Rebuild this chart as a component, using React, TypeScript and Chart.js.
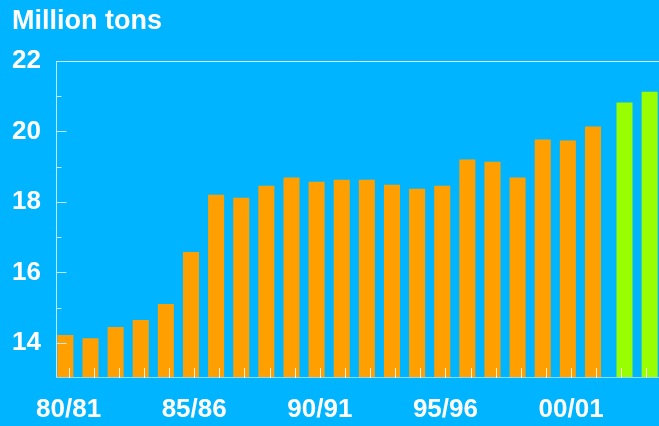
import React, { useEffect, useRef } from "react";
import { Chart, registerables } from "chart.js";

Chart.register(...registerables);

const categories = [
  "80/81", "81/82", "82/83", "83/84", "84/85", "85/86", "86/87", "87/88",
  "88/89", "89/90", "90/91", "91/92", "92/93", "93/94", "94/95", "95/96",
  "96/97", "97/98", "98/99", "99/00", "00/01", "01/02", "02/03", "03/04",
];
const actualValues = [
  14.22, 14.13, 14.45, 14.65, 15.1, 16.58, 18.2, 18.12, 18.46, 18.69, 18.57,
  18.63, 18.63, 18.49, 18.37, 18.46, 19.2, 19.14, 18.69, 19.77, 19.74, 20.14,
];
const forecastValues = [20.82, 21.13];
const yTickValues = [14, 16, 18, 20, 22];
const yMinorValues = [15, 17, 19, 21];

const BG = "rgb(0,180,255)";
const ORANGE = "rgb(255,160,0)";
const GREEN = "rgb(153,255,0)";
const FONT = "'Liberation Sans', Arial, sans-serif";

const framePlugin = {
  id: "frame",
  afterDatasetsDraw(chart: any) {
    const { ctx, chartArea, scales } = chart;
    const x = scales.x;
    const y = scales.y;
    ctx.save();
    ctx.lineWidth = 1;
    ctx.strokeStyle = "rgba(230,248,255,0.95)";
    const yTop = Math.round(y.getPixelForValue(22)) + 0.5;
    ctx.beginPath();
    ctx.moveTo(chartArea.left, yTop);
    ctx.lineTo(chart.width, yTop);
    ctx.stroke();
    ctx.strokeStyle = "rgba(190,235,255,1)";
    const xl = Math.round(chartArea.left) + 0.5;
    ctx.beginPath();
    ctx.moveTo(xl, yTop);
    ctx.lineTo(xl, chartArea.bottom);
    ctx.stroke();
    ctx.strokeStyle = "rgba(140,220,255,1)";
    const yb = Math.round(chartArea.bottom) - 0.5;
    ctx.beginPath();
    ctx.moveTo(chartArea.left, yb);
    ctx.lineTo(chart.width, yb);
    ctx.stroke();
    ctx.strokeStyle = "rgba(200,238,255,0.95)";
    yTickValues.forEach((v) => {
      const py = Math.round(y.getPixelForValue(v)) + 0.5;
      ctx.beginPath();
      ctx.moveTo(xl, py);
      ctx.lineTo(xl + 10, py);
      ctx.stroke();
    });
    yMinorValues.forEach((v) => {
      const py = Math.round(y.getPixelForValue(v)) + 0.5;
      ctx.beginPath();
      ctx.moveTo(xl, py);
      ctx.lineTo(xl + 5, py);
      ctx.stroke();
    });
    ctx.strokeStyle = "rgba(255,255,255,0.85)";
    categories.forEach((_, i) => {
      const px = Math.round(x.getPixelForTick(i)) + 0.5;
      ctx.beginPath();
      ctx.moveTo(px, chartArea.bottom - 10);
      ctx.lineTo(px, chartArea.bottom);
      ctx.stroke();
    });
    ctx.restore();
  },
};

export default function App() {
  const ref = useRef<HTMLCanvasElement>(null);

  useEffect(() => {
    if (!ref.current) return;
    const orangeData = categories.map((_, i) =>
      i < actualValues.length ? actualValues[i] : null
    );
    const greenData = categories.map((_, i) =>
      i >= actualValues.length ? forecastValues[i - actualValues.length] : null
    );
    const chart = new Chart(ref.current, {
      type: "bar",
      data: {
        labels: categories,
        datasets: [
          {
            data: orangeData,
            backgroundColor: ORANGE,
            categoryPercentage: 0.51,
            barPercentage: 2.5,
          },
          {
            data: greenData,
            backgroundColor: GREEN,
            categoryPercentage: 0.51,
            barPercentage: 2.5,
          },
        ],
      },
      options: {
        animation: false,
        responsive: true,
        maintainAspectRatio: false,
        layout: { padding: { left: 12, right: 0, top: 0, bottom: 0 } },
        plugins: {
          legend: { display: false },
          tooltip: { enabled: false },
          title: {
            display: true,
            text: "Million tons",
            align: "start",
            color: "#ffffff",
            font: { family: FONT, size: 27, weight: "bold", lineHeight: 1.2 },
            padding: { top: 5, bottom: 23.6 },
          },
        },
        scales: {
          x: {
            grid: { display: false, drawTicks: false },
            border: { display: false },
            ticks: {
              autoSkip: false,
              maxRotation: 0,
              minRotation: 0,
              color: "#ffffff",
              padding: 16,
              font: { family: FONT, size: 26, weight: "bold" },
              callback: (_v: any, i: number) =>
                i % 5 === 0 ? categories[i] : "",
            },
            afterFit: (scale: any) => {
              scale.height = 48;
              scale.paddingRight = 0;
            },
          },
          y: {
            min: 13,
            max: 22,
            grid: { display: false, drawTicks: false },
            border: { display: false },
            afterBuildTicks: (scale: any) => {
              scale.ticks = yTickValues.map((v) => ({ value: v }));
            },
            ticks: {
              color: "#ffffff",
              padding: 15,
              font: { family: FONT, size: 26, weight: "bold" },
            },
            afterFit: (scale: any) => {
              scale.width = 44;
            },
          },
        },
      },
      plugins: [framePlugin],
    });
    return () => chart.destroy();
  }, []);

  return (
    <div
      style={{
        position: "absolute",
        left: 0,
        top: 0,
        width: 659,
        height: 426,
        background: BG,
      }}
    >
      <canvas ref={ref} />
    </div>
  );
}
